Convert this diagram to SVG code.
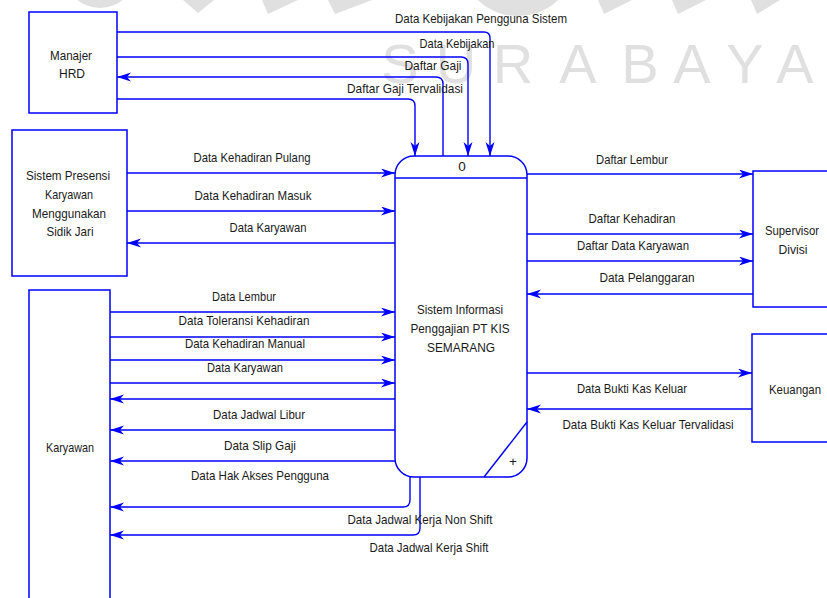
<svg xmlns="http://www.w3.org/2000/svg" width="827" height="598" viewBox="0 0 827 598">
<defs>
<marker id="arr" markerUnits="userSpaceOnUse" markerWidth="15" markerHeight="10" refX="14" refY="4.5" orient="auto">
<path d="M0,0 L14,4.5 L0,9 L4,4.5 Z" fill="#0000ff"/>
</marker>
<style>
.wm{font-family:"Liberation Sans",Arial,sans-serif;font-size:56px;fill:#e0e0e0;text-anchor:middle}
.wmshape{fill:#e0e0e0}
.box{fill:#ffffff;stroke:#0000ff;stroke-width:1.5}
.flow{fill:none;stroke:#0000ff;stroke-width:1.4}
.flow.a{marker-end:url(#arr)}
text{font-family:"Liberation Sans",Arial,sans-serif}
.lbl{font-size:13.5px;fill:#1a1a1a;text-anchor:middle}
.nt{font-size:13.5px;fill:#1a1a1a;text-anchor:middle}
</style>
</defs>
<rect width="827" height="598" fill="#ffffff"/>
<g id="watermark">
<ellipse class="wmshape" cx="100" cy="-28" rx="36" ry="36"/>
<polygon class="wmshape" points="183,0 214,0 198,13"/>
<polygon class="wmshape" points="262,0 298,0 268,14"/>
<polygon class="wmshape" points="328,0 372,0 335,14"/>
<ellipse class="wmshape" cx="518" cy="-28" rx="52" ry="44"/>
<polygon class="wmshape" points="598,0 632,0 604,14"/>
<polygon class="wmshape" points="672,0 706,0 678,14"/>
<polygon class="wmshape" points="751,0 780,0 757,14"/>
<text class="wm" x="400 456 513 578 640 692 745 795" y="83">SURABAYA</text>
</g>
<g id="connectors">
<path class="flow a" d="M117,32 H484 Q490,32 490,38 V156"/>
<path class="flow a" d="M117,57 H461 Q468,57 468,64 V156"/>
<path class="flow a" d="M443,156 V84 Q443,77 436,77 H117"/>
<path class="flow a" d="M117,99 H408 Q415,99 415,106 V156"/>
<path class="flow a" d="M127,173 H395"/>
<path class="flow a" d="M127,211 H395"/>
<path class="flow a" d="M395,243 H127"/>
<path class="flow a" d="M527,174 H753"/>
<path class="flow a" d="M527,234 H753"/>
<path class="flow a" d="M527,261 H753"/>
<path class="flow a" d="M753,294 H527"/>
<path class="flow a" d="M527,373 H752"/>
<path class="flow a" d="M752,409 H527"/>
<path class="flow a" d="M110,312 H395"/>
<path class="flow a" d="M110,337 H395"/>
<path class="flow a" d="M110,360 H395"/>
<path class="flow a" d="M110,383 H395"/>
<path class="flow a" d="M395,399 H110"/>
<path class="flow a" d="M395,430 H110"/>
<path class="flow a" d="M395,461 H110"/>
<path class="flow a" d="M410,477 V500 Q410,507 403,507 H110"/>
<path class="flow a" d="M420,477 V528 Q420,535 413,535 H110"/>
<text class="lbl" x="481" y="23" textLength="172" lengthAdjust="spacingAndGlyphs">Data Kebijakan Pengguna Sistem</text>
<text class="lbl" x="457" y="48" textLength="75" lengthAdjust="spacingAndGlyphs">Data Kebijakan</text>
<text class="lbl" x="433" y="70" textLength="57" lengthAdjust="spacingAndGlyphs">Daftar Gaji</text>
<text class="lbl" x="405" y="93" textLength="116" lengthAdjust="spacingAndGlyphs">Daftar Gaji Tervalidasi</text>
<text class="lbl" x="252" y="162" textLength="117" lengthAdjust="spacingAndGlyphs">Data Kehadiran Pulang</text>
<text class="lbl" x="253" y="200" textLength="117" lengthAdjust="spacingAndGlyphs">Data Kehadiran Masuk</text>
<text class="lbl" x="268" y="232" textLength="77" lengthAdjust="spacingAndGlyphs">Data Karyawan</text>
<text class="lbl" x="632" y="164" textLength="72" lengthAdjust="spacingAndGlyphs">Daftar Lembur</text>
<text class="lbl" x="632" y="223" textLength="87" lengthAdjust="spacingAndGlyphs">Daftar Kehadiran</text>
<text class="lbl" x="633" y="250" textLength="112" lengthAdjust="spacingAndGlyphs">Daftar Data Karyawan</text>
<text class="lbl" x="647" y="282" textLength="95" lengthAdjust="spacingAndGlyphs">Data Pelanggaran</text>
<text class="lbl" x="632" y="393" textLength="110" lengthAdjust="spacingAndGlyphs">Data Bukti Kas Keluar</text>
<text class="lbl" x="648" y="429" textLength="171" lengthAdjust="spacingAndGlyphs">Data Bukti Kas Keluar Tervalidasi</text>
<text class="lbl" x="244" y="301" textLength="64" lengthAdjust="spacingAndGlyphs">Data Lembur</text>
<text class="lbl" x="244" y="325" textLength="131" lengthAdjust="spacingAndGlyphs">Data Toleransi Kehadiran</text>
<text class="lbl" x="245" y="348" textLength="120" lengthAdjust="spacingAndGlyphs">Data Kehadiran Manual</text>
<text class="lbl" x="245" y="372" textLength="76" lengthAdjust="spacingAndGlyphs">Data Karyawan</text>
<text class="lbl" x="259" y="419" textLength="92" lengthAdjust="spacingAndGlyphs">Data Jadwal Libur</text>
<text class="lbl" x="260" y="450" textLength="72" lengthAdjust="spacingAndGlyphs">Data Slip Gaji</text>
<text class="lbl" x="260" y="480" textLength="138" lengthAdjust="spacingAndGlyphs">Data Hak Akses Pengguna</text>
<text class="lbl" x="420" y="524" textLength="145" lengthAdjust="spacingAndGlyphs">Data Jadwal Kerja Non Shift</text>
<text class="lbl" x="429" y="552" textLength="119" lengthAdjust="spacingAndGlyphs">Data Jadwal Kerja Shift</text>
</g>
<g id="manajer-hrd">
<rect class="box" x="29" y="12" width="88" height="101"/>
<text class="nt" x="71" y="60" textLength="42" lengthAdjust="spacingAndGlyphs">Manajer</text>
<text class="nt" x="72" y="78" textLength="26" lengthAdjust="spacingAndGlyphs">HRD</text>
</g>
<g id="sistem-presensi">
<rect class="box" x="12" y="130" width="115" height="146"/>
<text class="nt" x="68" y="180" textLength="84" lengthAdjust="spacingAndGlyphs">Sistem Presensi</text>
<text class="nt" x="69" y="199" textLength="48" lengthAdjust="spacingAndGlyphs">Karyawan</text>
<text class="nt" x="69" y="218" textLength="74" lengthAdjust="spacingAndGlyphs">Menggunakan</text>
<text class="nt" x="70" y="236" textLength="47" lengthAdjust="spacingAndGlyphs">Sidik Jari</text>
</g>
<g id="karyawan">
<path class="box" d="M29,610 V290 H110 V610"/>
<text class="nt" x="70" y="452" textLength="48" lengthAdjust="spacingAndGlyphs">Karyawan</text>
</g>
<g id="supervisor-divisi">
<path class="box" d="M835,171 H753 V307 H835"/>
<text class="nt" x="792" y="235" textLength="54" lengthAdjust="spacingAndGlyphs">Supervisor</text>
<text class="nt" x="793" y="254" textLength="29" lengthAdjust="spacingAndGlyphs">Divisi</text>
</g>
<g id="keuangan">
<path class="box" d="M835,334 H752 V442 H835"/>
<text class="nt" x="795" y="394" textLength="52" lengthAdjust="spacingAndGlyphs">Keuangan</text>
</g>
<g id="process-0">
<rect class="box" x="395" y="156" width="132" height="321" rx="19" ry="19"/>
<line class="flow" x1="395" y1="178" x2="527" y2="178"/>
<line class="flow" x1="527" y1="422" x2="484" y2="477"/>
<text class="nt" x="462" y="171">0</text>
<text class="nt" x="460" y="314" textLength="86" lengthAdjust="spacingAndGlyphs">Sistem Informasi</text>
<text class="nt" x="460" y="333" textLength="99" lengthAdjust="spacingAndGlyphs">Penggajian PT KIS</text>
<text class="nt" x="461" y="352" textLength="68" lengthAdjust="spacingAndGlyphs">SEMARANG</text>
<text class="nt" x="513" y="466">+</text>
</g>
</svg>
